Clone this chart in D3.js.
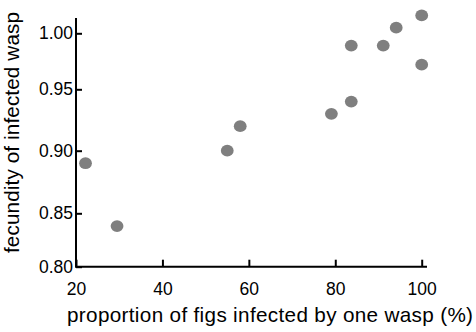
<!DOCTYPE html>
<html>
<head>
<meta charset="utf-8">
<script src="https://cdn.jsdelivr.net/npm/d3@7"></script>
<style>
  html, body { margin: 0; padding: 0; background: #fff; }
  svg { display: block; }
  text { font-family: "Liberation Sans", Arial, sans-serif; fill: #000; }
</style>
</head>
<body>
<svg id="chart" width="476" height="332"></svg>
<script>
// Proportion of figs infected by a single wasp (%) vs. fecundity of infected wasp
const proportion = [22.2, 29.5, 55.0, 58.0, 79.1, 83.7, 83.7, 91.1, 94.1, 100, 100];
const fecundity  = [0.89, 0.838, 0.90, 0.92, 0.93, 0.94, 0.989, 0.989, 1.005, 1.016, 0.972];

const xTicks = [20, 40, 60, 80, 100];
const yTicks = [0.80, 0.85, 0.90, 0.95, 1.00];

const xTitle = "proportion of figs infected by one wasp (%)";
const yTitle = "fecundity of infected wasp";

const svg = d3.select("#chart");

const x = d3.scaleLinear().domain([20, 100]).range([76, 421.7]);
// tick rows are not evenly spaced on this axis, so map each tick to its own row
const y = d3.scaleLinear().domain(yTicks).range([266.7, 213.3, 150.7, 89.3, 33.3]);

const axisColor = "#000";

// y axis
const gy = svg.append("g")
  .attr("transform", `translate(${x.range()[0]},0)`)
  .call(d3.axisLeft(y).tickValues(yTicks).tickFormat(d3.format(".2f"))
    .tickSizeInner(-6).tickSizeOuter(0).tickPadding(3));
gy.select(".domain").remove();
gy.selectAll(".tick line").attr("stroke", axisColor).attr("stroke-width", 2);
gy.selectAll(".tick text").attr("font-size", 17.5).attr("font-family", "Liberation Sans, Arial, sans-serif");

// x axis
const gx = svg.append("g")
  .attr("transform", `translate(0,${y(0.80)})`)
  .call(d3.axisBottom(x).tickValues(xTicks).tickFormat(d3.format("d"))
    .tickSizeInner(-7).tickSizeOuter(0).tickPadding(16.3));
gx.select(".domain").remove();
gx.selectAll(".tick line").attr("stroke", axisColor).attr("stroke-width", 2);
gx.selectAll(".tick text").attr("font-size", 17.5).attr("font-family", "Liberation Sans, Arial, sans-serif");

// axis lines
svg.append("path")
  .attr("d", `M${x(20)},18 V${y(0.80)} H427`)
  .attr("fill", "none")
  .attr("stroke", axisColor)
  .attr("stroke-width", 2);

// points
svg.append("g")
  .selectAll("ellipse")
  .data(proportion.map((p, i) => ({ p, f: fecundity[i] })))
  .join("ellipse")
  .attr("cx", d => x(d.p))
  .attr("cy", d => y(d.f))
  .attr("rx", 6.4)
  .attr("ry", 5.9)
  .attr("fill", "#7f7f7f");

// axis titles
svg.append("text")
  .attr("x", 67)
  .attr("y", 322)
  .attr("font-size", 20.7)
  .attr("textLength", 406)
  .attr("lengthAdjust", "spacing")
  .text(xTitle);

svg.append("text")
  .attr("transform", "translate(18.5,253) rotate(-90)")
  .attr("font-size", 20.7)
  .attr("textLength", 241)
  .attr("lengthAdjust", "spacing")
  .text(yTitle);
</script>
</body>
</html>
